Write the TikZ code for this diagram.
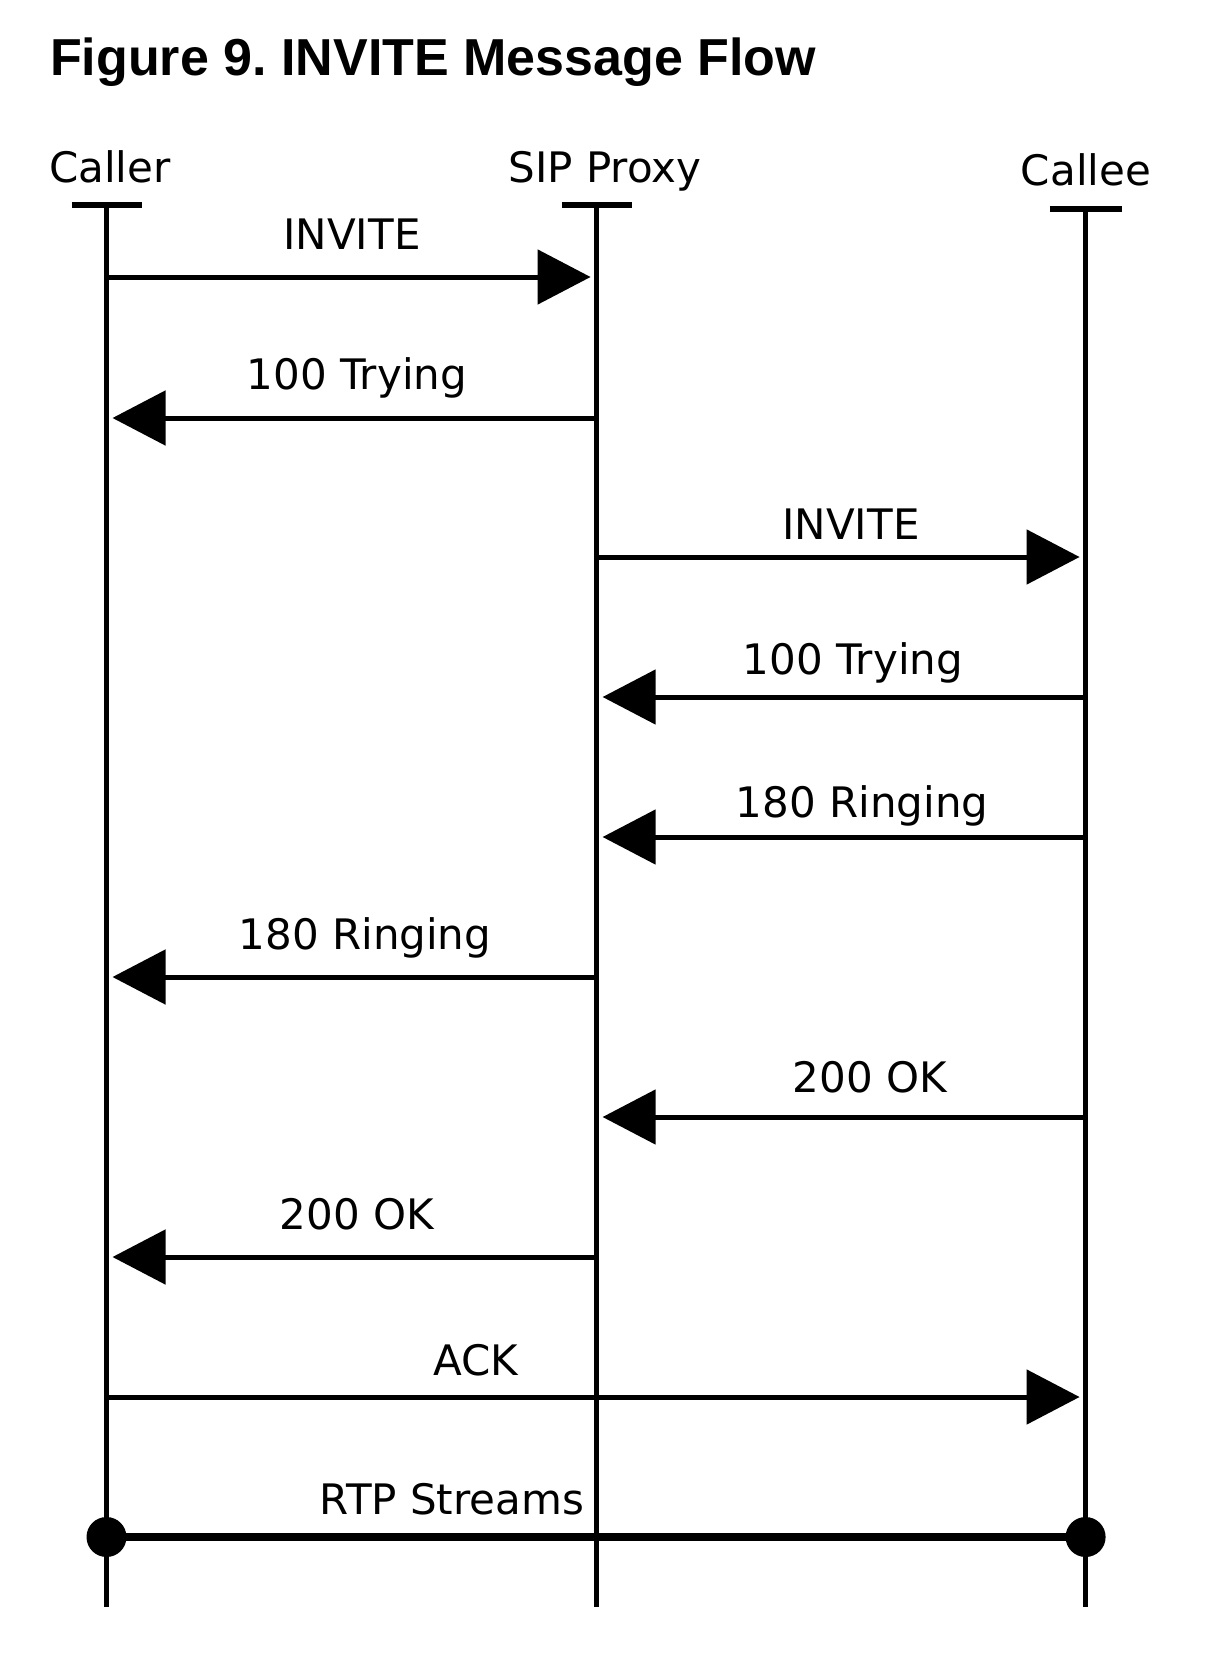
\documentclass[tikz,border=0pt]{standalone}
\usepackage{fontspec}
\setmainfont{DejaVu Sans}
\newfontfamily\titlefont{Liberation Sans}
\usetikzlibrary{arrows.meta}
\frenchspacing
\begin{document}
\begin{tikzpicture}[x=1pt,y=-1pt,
  lbl/.style={font=\fontsize{42}{42}\selectfont, inner sep=0pt, anchor=base},
  life/.style={line width=4.5pt},
  tee/.style={line width=6pt},
  msg/.style={line width=5pt, -{Triangle[length=53pt,width=54pt]}, shorten >=6pt},
  rtp/.style={line width=8pt},
  dot/.style={circle, fill=black, inner sep=0pt, minimum size=40pt}
]
\useasboundingbox[fill=white] (0,0) rectangle (1222,1670);
\node[anchor=base west, inner sep=0pt, font=\titlefont\bfseries\fontsize{52}{52}\selectfont\frenchspacing] (title) at (50,75) {Figure 9. INVITE Message Flow};

% participants
\node[lbl] (caller) at (110,182) {Caller};
\node[lbl] (proxy) at (605,182) {SIP Proxy};
\node[lbl] (callee) at (1086,185) {Callee};

% lifelines
\coordinate (A0) at (106.5,205);  \coordinate (A1) at (106.5,1607);
\coordinate (P0) at (596.6,205);  \coordinate (P1) at (596.6,1607);
\coordinate (C0) at (1085.6,209); \coordinate (C1) at (1085.6,1607);
\draw[life] (A0) -- (A1);
\draw[life] (P0) -- (P1);
\draw[life] (C0) -- (C1);
\draw[tee] ([xshift=-35pt]A0) -- ([xshift=35pt]A0);
\draw[tee] ([xshift=-35pt]P0) -- ([xshift=35pt]P0);
\draw[tee] ([xshift=-36pt]C0) -- ([xshift=36pt]C0);

% message points
\foreach \n/\y in {1/277,2/418,3/557,4/697,5/837,6/977,7/1117,8/1257,9/1397,10/1537}{
  \coordinate (a\n) at (106.5,\y);
  \coordinate (p\n) at (596.6,\y);
  \coordinate (c\n) at (1085.6,\y);
}

\draw[msg] (a1) -- (p1);
\node[lbl] (l1) at (352,249) {INVITE};
\draw[msg] (p2) -- (a2);
\node[lbl] (l2) at (357,389) {100 Trying};
\draw[msg] (p3) -- (c3);
\node[lbl] (l3) at (851,539) {INVITE};
\draw[msg] (c4) -- (p4);
\node[lbl] (l4) at (853,674) {100 Trying};
\draw[msg] (c5) -- (p5);
\node[lbl] (l5) at (862,817) {180 Ringing};
\draw[msg] (p6) -- (a6);
\node[lbl] (l6) at (365,949) {180 Ringing};
\draw[msg] (c7) -- (p7);
\node[lbl] (l7) at (870,1092) {200 OK};
\draw[msg] (p8) -- (a8);
\node[lbl] (l8) at (357,1229) {200 OK};
\draw[msg] (a9) -- (c9);
\node[lbl] (l9) at (476,1375) {ACK};

\draw[rtp] (a10) -- (c10);
\node[dot] (d1) at (a10) {};
\node[dot] (d2) at (c10) {};
\node[lbl] (l10) at (452,1514) {RTP Streams};
\end{tikzpicture}
\end{document}
